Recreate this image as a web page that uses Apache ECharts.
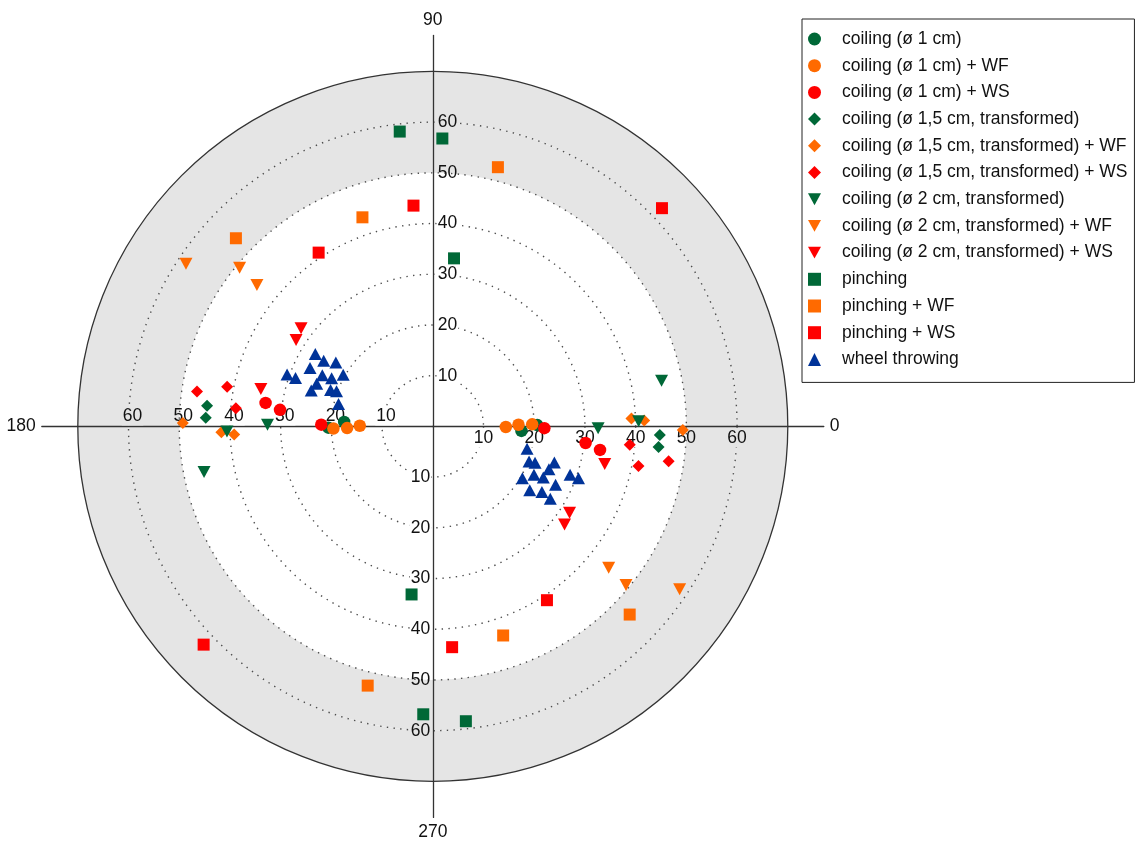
<!DOCTYPE html>
<html>
<head>
<meta charset="utf-8">
<script src="https://cdn.jsdelivr.net/npm/echarts@6/dist/echarts.min.js"></script>
<style>html,body{margin:0;padding:0;background:#fff}#c{width:1137px;height:843px}</style>
</head>
<body>
<div id="c"></div>
<script>
// ---------------- data (radius, angle in degrees) ----------------
const seriesNames = [
  'coiling (ø 1 cm)',
  'coiling (ø 1 cm) + WF',
  'coiling (ø 1 cm) + WS',
  'coiling (ø 1,5 cm, transformed)',
  'coiling (ø 1,5 cm, transformed) + WF',
  'coiling (ø 1,5 cm, transformed) + WS',
  'coiling (ø 2 cm, transformed)',
  'coiling (ø 2 cm, transformed) + WF',
  'coiling (ø 2 cm, transformed) + WS',
  'pinching',
  'pinching + WF',
  'pinching + WS',
  'wheel throwing'
];
const angleTickLabels = [0, 90, 180, 270];
const radiusTickLabels = [10, 20, 30, 40, 50, 60];

const coil1 = [[17.5, 357.1], [17.5, 177.1], [20.6, 0.7], [20.6, 180.7]];
const coil1WF = [[14.4, 359.5], [14.4, 179.5], [16.9, 1.1], [16.9, 181.1], [19.6, 1.2], [19.6, 181.2]];
const coil1WS = [[33.3, 172.0], [33.3, 352.0], [30.3, 173.8], [30.3, 353.8], [22.0, 179.1], [22.0, 359.1]];
const coil15 = [[44.7, 174.8], [44.7, 354.8], [44.8, 177.8], [44.8, 357.8]];
const coil15WF = [[49.3, 179.2], [49.3, 359.2], [41.7, 181.6], [41.7, 1.6], [39.2, 182.3], [39.2, 2.3]];
const coil15WS = [[47.0, 171.6], [47.0, 351.6], [41.3, 169.1], [41.3, 349.1], [39.0, 174.7], [39.0, 354.7]];
const coil2 = [[32.6, 179.4], [32.6, 359.4], [40.6, 181.4], [40.6, 1.4], [46.0, 191.3], [46.0, 11.3]];
const coil2WF = [[58.3, 146.6], [58.3, 326.6], [49.3, 140.6], [49.3, 320.6], [44.5, 141.2], [44.5, 321.2]];
const coil2WS = [[32.4, 143.3], [32.4, 323.3], [31.9, 147.7], [31.9, 327.7], [34.7, 167.7], [34.7, 347.7]];
const pinch = [[58.5, 96.4], [58.5, 276.4], [56.8, 88.1], [56.8, 268.1], [33.4, 82.8], [33.4, 262.8]];
const pinchWF = [[43.5, 108.6], [43.5, 288.6], [53.7, 136.3], [53.7, 316.3], [52.7, 75.9], [52.7, 255.9]];
const pinchWS = [[43.7, 95.0], [43.7, 275.0], [41.0, 123.3], [41.0, 303.3], [62.4, 43.6], [62.4, 223.6]];
const wheel = [
  [27.2, 148.4], [27.2, 328.4], [25.1, 149.0], [25.1, 329.0], [22.9, 146.6], [22.9, 326.6],
  [26.8, 154.6], [26.8, 334.6], [30.5, 160.4], [30.5, 340.4], [28.7, 160.6], [28.7, 340.6],
  [24.0, 155.2], [24.0, 335.2], [22.1, 154.5], [22.1, 334.5], [20.4, 150.0], [20.4, 330.0],
  [24.4, 159.8], [24.4, 339.8], [25.0, 163.5], [25.0, 343.5], [21.4, 160.4], [21.4, 340.4],
  [20.2, 160.0], [20.2, 340.0], [19.1, 166.7], [19.1, 346.7]
];
const seriesData = [coil1, coil1WF, coil1WS, coil15, coil15WF, coil15WS, coil2, coil2WF, coil2WS, pinch, pinchWF, pinchWS, wheel];

// ---------------- styling ----------------
const GREEN = '#006837', ORANGE = '#ff6a00', RED = '#ff0000', BLUE = '#003399';
const FONT = "'Liberation Sans', Arial, Helvetica, sans-serif";
const DOWN_TRI = 'path://M0,0L12,0L6,11Z';
const styles = [
  {symbol: 'circle', size: 12.5, rot: 0, color: GREEN, icon: 'circle'},
  {symbol: 'circle', size: 12.5, rot: 0, color: ORANGE, icon: 'circle'},
  {symbol: 'circle', size: 12.5, rot: 0, color: RED, icon: 'circle'},
  {symbol: 'diamond', size: 12, rot: 0, color: GREEN, icon: 'diamond'},
  {symbol: 'diamond', size: 12, rot: 0, color: ORANGE, icon: 'diamond'},
  {symbol: 'diamond', size: 12, rot: 0, color: RED, icon: 'diamond'},
  {symbol: 'triangle', size: [13, 12], rot: 180, color: GREEN, icon: DOWN_TRI},
  {symbol: 'triangle', size: [13, 12], rot: 180, color: ORANGE, icon: DOWN_TRI},
  {symbol: 'triangle', size: [13, 12], rot: 180, color: RED, icon: DOWN_TRI},
  {symbol: 'rect', size: 12, rot: 0, color: GREEN, icon: 'rect'},
  {symbol: 'rect', size: 12, rot: 0, color: ORANGE, icon: 'rect'},
  {symbol: 'rect', size: 12, rot: 0, color: RED, icon: 'rect'},
  {symbol: 'triangle', size: [13, 12], rot: 0, color: BLUE, icon: 'triangle'}
];

const C = [432.8, 426.4];
const R = 355, RX = 391;
const RMAX = 70, RXMAX = RMAX * RX / R;
const BAND = '#e5e5e5';

function radLabel(v) {
  const n = Math.round(v);
  if (!(Math.abs(v - n) < 1e-6 && radiusTickLabels.indexOf(n) >= 0)) return '';
  if (n <= 40) return '{w|' + n + '}';
  if (n >= 60) return '{g|' + n + '}';
  return '{n|' + n + '}';
}
function angLabel(v) {
  const n = Math.round(v);
  return (Math.abs(v - n) < 1e-6 && angleTickLabels.indexOf(n) >= 0) ? String(n) : '';
}

const dirs = [
  {start: 0, margin: -3, align: 'center', va: 'top', pad: [0, 0, 0, 0]},
  {start: 90, margin: -4, align: 'left', va: 'middle', pad: [0, 0, 0, 0]},
  {start: 180, margin: -1, align: 'center', va: 'bottom', pad: [0, 0, 0, 8]},
  {start: 270, margin: -1.5, align: 'right', va: 'middle', pad: [0, 0, 0, 0]}
];

const dotC = '#4d4d4d';
const NONE = 'rgba(0,0,0,0)';
const labelText = {fontSize: 17.5, color: '#111', fontFamily: FONT, padding: [0, 1, 0, 1]};
const option = {
  animation: false,
  backgroundColor: '#fff',
  textStyle: {fontFamily: FONT},
  polar: [{center: C, radius: R}].concat(dirs.map(() => ({center: C, radius: RX}))),
  angleAxis: [{
    polarIndex: 0, type: 'value', min: 0, max: 360, interval: 90,
    startAngle: 0, clockwise: false, z: 1,
    axisLine: {show: true, lineStyle: {color: '#333', width: 1.3}},
    axisTick: {show: false},
    splitLine: {show: false},
    axisLabel: {show: true, margin: 42, fontSize: 17.5, color: '#111', fontFamily: FONT, formatter: angLabel}
  }].concat(dirs.map((d, i) => ({
    polarIndex: i + 1, type: 'value', min: 0, max: 360, startAngle: d.start, clockwise: false, show: false
  }))),
  radiusAxis: [{
    polarIndex: 0, type: 'value', min: 0, max: RMAX, interval: 10, z: 0,
    axisLine: {show: false}, axisTick: {show: false}, axisLabel: {show: false},
    splitLine: {show: false},
    splitArea: {show: true, areaStyle: {color: ['#ffffff', '#ffffff', '#ffffff', '#ffffff', '#ffffff', BAND, BAND]}}
  }].concat(dirs.map((d, i) => ({
    polarIndex: i + 1, type: 'value', min: 0, max: RXMAX, interval: 10, z: 3,
    axisLine: {show: true, lineStyle: {color: '#333', width: 1.3}},
    axisTick: {show: false},
    splitLine: i === 0 ? {
      show: true,
      lineStyle: {color: [NONE, dotC, dotC, dotC, dotC, dotC, dotC, NONE, NONE], width: 1.4, type: [1.4, 5.3]}
    } : {show: false},
    splitArea: {show: false},
    axisLabel: {
      show: true, margin: d.margin, align: d.align, verticalAlign: d.va, padding: d.pad,
      fontSize: 17.5, color: '#111', fontFamily: FONT, formatter: radLabel,
      showMinLabel: true, showMaxLabel: true, hideOverlap: false,
      rich: {
        w: Object.assign({backgroundColor: '#ffffff'}, labelText),
        g: Object.assign({backgroundColor: BAND}, labelText),
        n: Object.assign({}, labelText)
      }
    }
  }))),
  legend: {
    orient: 'vertical', left: 802, top: 19,
    padding: [11, 7, 14, 6],
    itemWidth: 13, itemHeight: 13, itemGap: 8.7,
    borderColor: '#222', borderWidth: 1, borderRadius: 0, backgroundColor: '#fff',
    selectedMode: false,
    textStyle: {fontSize: 17.5, lineHeight: 18, color: '#111', fontFamily: FONT, padding: [0, 0, 0, 16]},
    data: seriesNames.map((n, i) => ({name: n, icon: styles[i].icon}))
  },
  series: seriesNames.map((name, i) => ({
    name: name,
    type: 'scatter',
    coordinateSystem: 'polar',
    polarIndex: 0,
    z: 10,
    symbol: styles[i].symbol,
    symbolSize: styles[i].size,
    symbolRotate: styles[i].rot,
    itemStyle: {color: styles[i].color, opacity: 1},
    emphasis: {disabled: true},
    data: seriesData[i]
  }))
};

const chart = echarts.init(document.getElementById('c'));
chart.setOption(option);
</script>
</body>
</html>
